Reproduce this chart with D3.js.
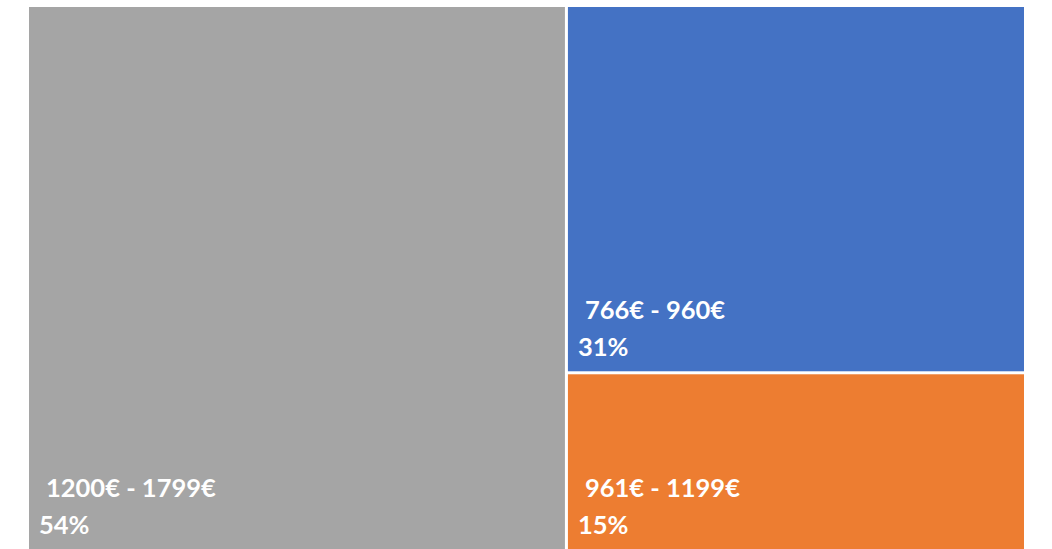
<!DOCTYPE html>
<html>
<head>
<meta charset="utf-8">
<script src="https://cdn.jsdelivr.net/npm/d3@7"></script>
<style>
  body { margin: 0; background: #fff; }
  svg { display: block; }
  text { font-family: Lato, "Open Sans", sans-serif; font-weight: bold; fill: #fff; }
</style>
</head>
<body>
<svg id="chart" width="1052" height="549"></svg>
<script>
// Price ranges and their share
const categories = ['1200€ - 1799€', '766€ - 960€', '961€ - 1199€'];
const shares = [54, 31, 15];
const colors = ['#A5A5A5', '#4472C4', '#ED7D31'];

const svg = d3.select('#chart');
const marginLeft = 29, marginTop = 7, width = 995, height = 542;

let root = d3.hierarchy({
    children: categories.map((c, i) => ({ name: c, value: shares[i], color: colors[i] }))
  })
  .sum(d => d.value || 0)
  .sort((a, b) => b.value - a.value);

d3.treemap()
  .tile(d3.treemapSquarify)
  .size([width, height])
  .paddingInner(3)(root);

let cells = svg.append('g')
  .attr('transform', `translate(${marginLeft},${marginTop})`)
  .selectAll('g')
  .data(root.leaves())
  .join('g')
  .attr('transform', d => `translate(${d.x0},${d.y0})`);

cells.append('rect')
  .attr('width', d => d.x1 - d.x0)
  .attr('height', d => d.y1 - d.y0)
  .attr('fill', d => d.data.color);

// labels sit at the bottom-left of each block
cells.append('text')
  .attr('x', 17)
  .attr('y', d => d.y1 - d.y0 - 52)
  .style('font-size', '25.5px')
  .text(d => d.data.name);

cells.append('text')
  .attr('x', 10)
  .attr('y', d => d.y1 - d.y0 - 15)
  .style('font-size', '25.5px')
  .text(d => d.data.value + '%');
</script>
</body>
</html>
